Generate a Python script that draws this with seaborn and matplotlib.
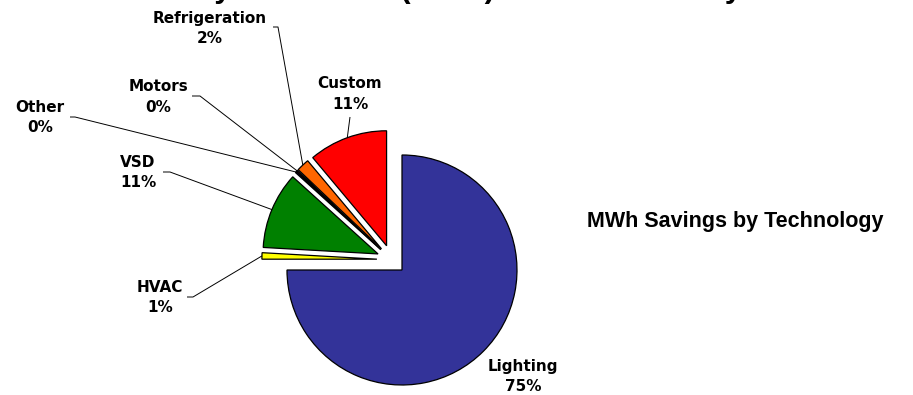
import numpy as np
import matplotlib
matplotlib.use("Agg")
import matplotlib.pyplot as plt
import seaborn as sns

# Share of MWh savings per technology (percent)
technologies = ["Lighting", "HVAC", "VSD", "Other", "Motors", "Refrigeration", "Custom"]
savings_pct = [75.0, 0.9, 10.8, 0.2, 0.2, 1.8, 11.1]
slice_colors = ["#333399", "#FFFF00", "#008000", "#000080", "#800000", "#FF6600", "#FF0000"]

chart_title = "Electricity Reduction (MWh) Across Territory"
side_caption = "MWh Savings by Technology"

sns.set_theme(style="white")
plt.rcParams["font.family"] = ["DejaVu Sans"]
plt.rcParams["text.color"] = "black"

W, H = 913, 395
fig = plt.figure(figsize=(W / 100, H / 100), dpi=100)
ax = fig.add_axes([0, 0, 1, 1])


def fy(y):
    """Convert a top-down pixel row to the axes' bottom-up coordinate."""
    return H - y


radius = 115
offset = 14.7  # pie explode distance, in the same units as the radius
wedges, _ = ax.pie(
    savings_pct,
    colors=slice_colors,
    startangle=90,
    counterclock=False,
    radius=radius,
    center=(391.6, fy(259.6)),
    explode=[offset] * len(savings_pct),
    wedgeprops=dict(edgecolor="black", linewidth=0.9),
    frame=True,
)
ax.set_xlim(0, W)
ax.set_ylim(0, H)
ax.set_aspect("equal")
ax.axis("off")

# Label block centre and where its leader line leaves the text
label_layout = {
    "Lighting": ((523, 376.5), None),
    "HVAC": ((160, 297.5), [(187, 297), (193, 297)]),
    "VSD": ((138, 172.5), [(163, 172), (170, 172)]),
    "Other": ((40, 117.5), [(70, 117), (75, 117)]),
    "Motors": ((158, 97), [(192, 96), (200, 96)]),
    "Refrigeration": ((210, 28.5), [(273, 27), (278, 27)]),
    "Custom": ((350, 94), [(350, 117)]),
}

for wedge, name, pct in zip(wedges, technologies, savings_pct):
    (lx, ly), leader = label_layout[name]
    ax.text(lx, fy(ly), f"{name}\n{pct:.0f}%", ha="center", va="center",
            fontsize=11, fontweight="bold", linespacing=1.45, color="black")
    if leader is None:
        continue
    mid = np.deg2rad((wedge.theta1 + wedge.theta2) / 2)
    cx, cy = wedge.center
    tip = (cx + wedge.r * np.cos(mid), cy + wedge.r * np.sin(mid))
    xs = [p[0] for p in leader] + [tip[0]]
    ys = [fy(p[1]) for p in leader] + [tip[1]]
    ax.plot(xs, ys, color="black", linewidth=0.7, solid_capstyle="butt")

ax.text(735, fy(222), side_caption, ha="center", va="center", color="black",
        fontsize=15.5, fontweight="bold", family="Liberation Sans")

ax.text(83, H + 2.5, chart_title, ha="left", va="baseline", color="black",
        fontsize=22.3, fontweight="bold", family="Liberation Sans", clip_on=False)

fig.savefig("out.png", dpi=100, facecolor="white")
